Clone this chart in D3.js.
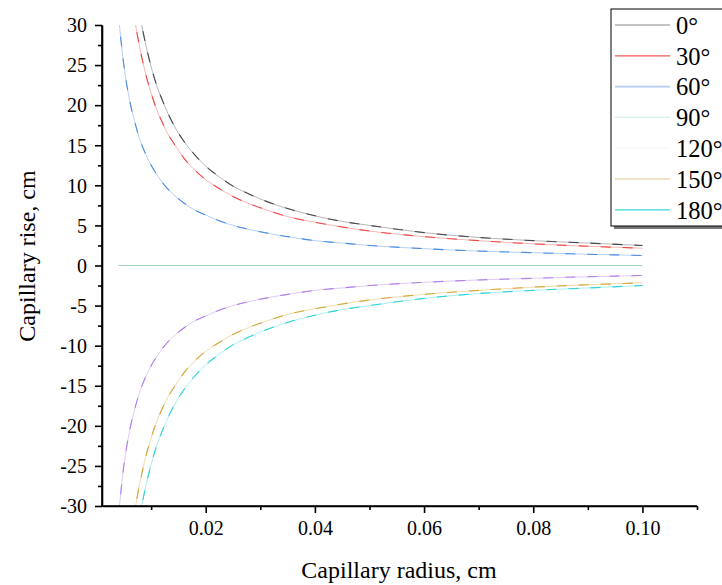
<!DOCTYPE html>
<html><head><meta charset="utf-8">
<script src="https://cdn.jsdelivr.net/npm/d3@7"></script>
<style>body{margin:0;background:#fff}svg{display:block}</style>
</head><body>
<svg id="c" width="722" height="585"></svg>
<script>
// ---- data ----
const radius = [0.004,0.005,0.006,0.007,0.008,0.009,0.010,0.011,0.012,0.013,0.014,0.016,0.018,0.020,0.022,0.025,0.028,0.030,0.035,0.040,0.045,0.050,0.060,0.070,0.080,0.090,0.100];
const angles = ["0°","30°","60°","90°","120°","150°","180°"];
const h0   = [62.0,49.6,41.3,35.4,31.0,27.6,24.8,22.5,20.7,19.1,17.7,15.5,13.8,12.4,11.3,9.9,8.9,8.3,7.1,6.2,5.5,5.0,4.1,3.5,3.1,2.8,2.5];
const h30  = [53.7,43.0,35.8,30.7,26.9,23.9,21.5,19.5,17.9,16.5,15.4,13.4,11.9,10.7,9.8,8.6,7.7,7.2,6.1,5.4,4.8,4.3,3.6,3.1,2.7,2.4,2.15];
const h60  = [31.3,25.0,20.8,17.9,15.6,13.9,12.5,11.4,10.4,9.6,8.9,7.8,6.9,6.3,5.7,5.0,4.5,4.2,3.6,3.1,2.8,2.5,2.1,1.8,1.6,1.4,1.25];
const h90  = [0,0,0,0,0,0,0,0,0,0,0,0,0,0,0,0,0,0,0,0,0,0,0,0,0,0,0];
const h120 = [-31.3,-25.0,-20.8,-17.9,-15.6,-13.9,-12.5,-11.4,-10.4,-9.6,-8.9,-7.8,-6.9,-6.3,-5.7,-5.0,-4.5,-4.2,-3.6,-3.1,-2.8,-2.5,-2.1,-1.8,-1.6,-1.4,-1.25];
const h150 = [-53.7,-43.0,-35.8,-30.7,-26.9,-23.9,-21.5,-19.5,-17.9,-16.5,-15.4,-13.4,-11.9,-10.7,-9.8,-8.6,-7.7,-7.2,-6.1,-5.4,-4.8,-4.3,-3.6,-3.1,-2.7,-2.4,-2.15];
const h180 = [-62.0,-49.6,-41.3,-35.4,-31.0,-27.6,-24.8,-22.5,-20.7,-19.1,-17.7,-15.5,-13.8,-12.4,-11.3,-9.9,-8.9,-8.3,-7.1,-6.2,-5.5,-5.0,-4.1,-3.5,-3.1,-2.8,-2.5];
const seriesValues = [h0,h30,h60,h90,h120,h150,h180];
const xMajorTicks = [0.02,0.04,0.06,0.08,0.10];
const xMinorTicks = [0.01,0.03,0.05,0.07,0.09,0.11];
const yMajorTicks = [-30,-25,-20,-15,-10,-5,0,5,10,15,20,25,30];
const yMinorTicks = [-27.5,-22.5,-17.5,-12.5,-7.5,-2.5,2.5,7.5,12.5,17.5,22.5,27.5];

// styles
const lineColors   = ["#4a4a4a","#f04848","#4a8ce0","#a6d8bc","#b07ee8","#d4a838","#30d4d4"];
const legendColors = ["#8a8a8a","#f05a5a","#b4ccf0","#d8eee6","#f6f6f6","#e2c88e","#38d8d8"];
const SERIF = "Liberation Serif";

const svg = d3.select("#c");
const L=102, R=697, T=25, B=506;
const x = d3.scaleLinear().domain([0.001,0.11]).range([L,R]);
const y = d3.scaleLinear().domain([-30,30]).range([B,T]);

svg.append("clipPath").attr("id","clip").append("rect")
  .attr("x",L).attr("y",T).attr("width",R-L).attr("height",B-T);

const line = d3.line().x((d,i)=>x(radius[i])).y(d=>y(d)).curve(d3.curveMonotoneX);
const g = svg.append("g").attr("clip-path","url(#clip)");
seriesValues.forEach((vals,k)=>{
  g.append("path").attr("d",line(vals)).attr("fill","none")
   .attr("stroke",lineColors[k]).attr("stroke-width",1).attr("stroke-opacity",0.4);
  g.append("path").attr("d",line(vals)).attr("fill","none")
   .attr("stroke",lineColors[k]).attr("stroke-width",1.1)
   .attr("stroke-dasharray", k===3 ? null : "10 12");
});

// axes
const fmtX = d3.format(".2f");
const xAxis = svg.append("g").attr("transform",`translate(0,${B})`)
  .call(d3.axisBottom(x).tickValues(xMajorTicks).tickFormat(fmtX).tickSize(7).tickSizeOuter(0));
const xMinor = svg.append("g").attr("transform",`translate(0,${B})`)
  .call(d3.axisBottom(x).tickValues(xMinorTicks).tickFormat("").tickSize(4).tickSizeOuter(0));
const yAxis = svg.append("g").attr("transform",`translate(${L},0)`)
  .call(d3.axisLeft(y).tickValues(yMajorTicks).tickFormat(d=>String(d)).tickSize(7).tickSizeOuter(0));
const yMinor = svg.append("g").attr("transform",`translate(${L},0)`)
  .call(d3.axisLeft(y).tickValues(yMinorTicks).tickFormat("").tickSize(4).tickSizeOuter(0));
[xAxis,xMinor,yAxis,yMinor].forEach(a=>{
  a.attr("font-family",SERIF).attr("font-size",20);
  a.selectAll("path,line").attr("stroke","#000").attr("stroke-width",1.6);
  a.selectAll("text").attr("fill","#000");
});
xAxis.select(".domain").attr("d",`M${L-1},0H${R}`);
yAxis.select(".domain").attr("d",`M0,${T}V${B+1}`);
xAxis.selectAll("text").attr("y",15);
yAxis.selectAll("text").attr("x",-15).attr("dy","0.34em");

svg.append("text").attr("x",399).attr("y",578).attr("text-anchor","middle")
  .attr("font-family",SERIF).attr("font-size",24).text("Capillary radius, cm");
svg.append("text").attr("transform","translate(35,256) rotate(-90)").attr("text-anchor","middle")
  .attr("font-family",SERIF).attr("font-size",24).text("Capillary rise, cm");

// legend
const lg = svg.append("g");
lg.append("rect").attr("x",614).attr("y",12).attr("width",120).attr("height",217).attr("fill","#777");
lg.append("rect").attr("x",611).attr("y",9).attr("width",120).attr("height",217)
  .attr("fill","#fff").attr("stroke","#000").attr("stroke-width",1);
angles.forEach((a,i)=>{
  const yy = 25 + i*30.8;
  lg.append("line").attr("x1",615).attr("x2",670).attr("y1",yy).attr("y2",yy)
    .attr("stroke",legendColors[i]).attr("stroke-width", i===2?1.6:1.2);
  lg.append("text").attr("x",676).attr("y",yy).attr("dy","0.36em")
    .attr("font-family",SERIF).attr("font-size",24.5).text(a);
});
</script>
</body></html>
